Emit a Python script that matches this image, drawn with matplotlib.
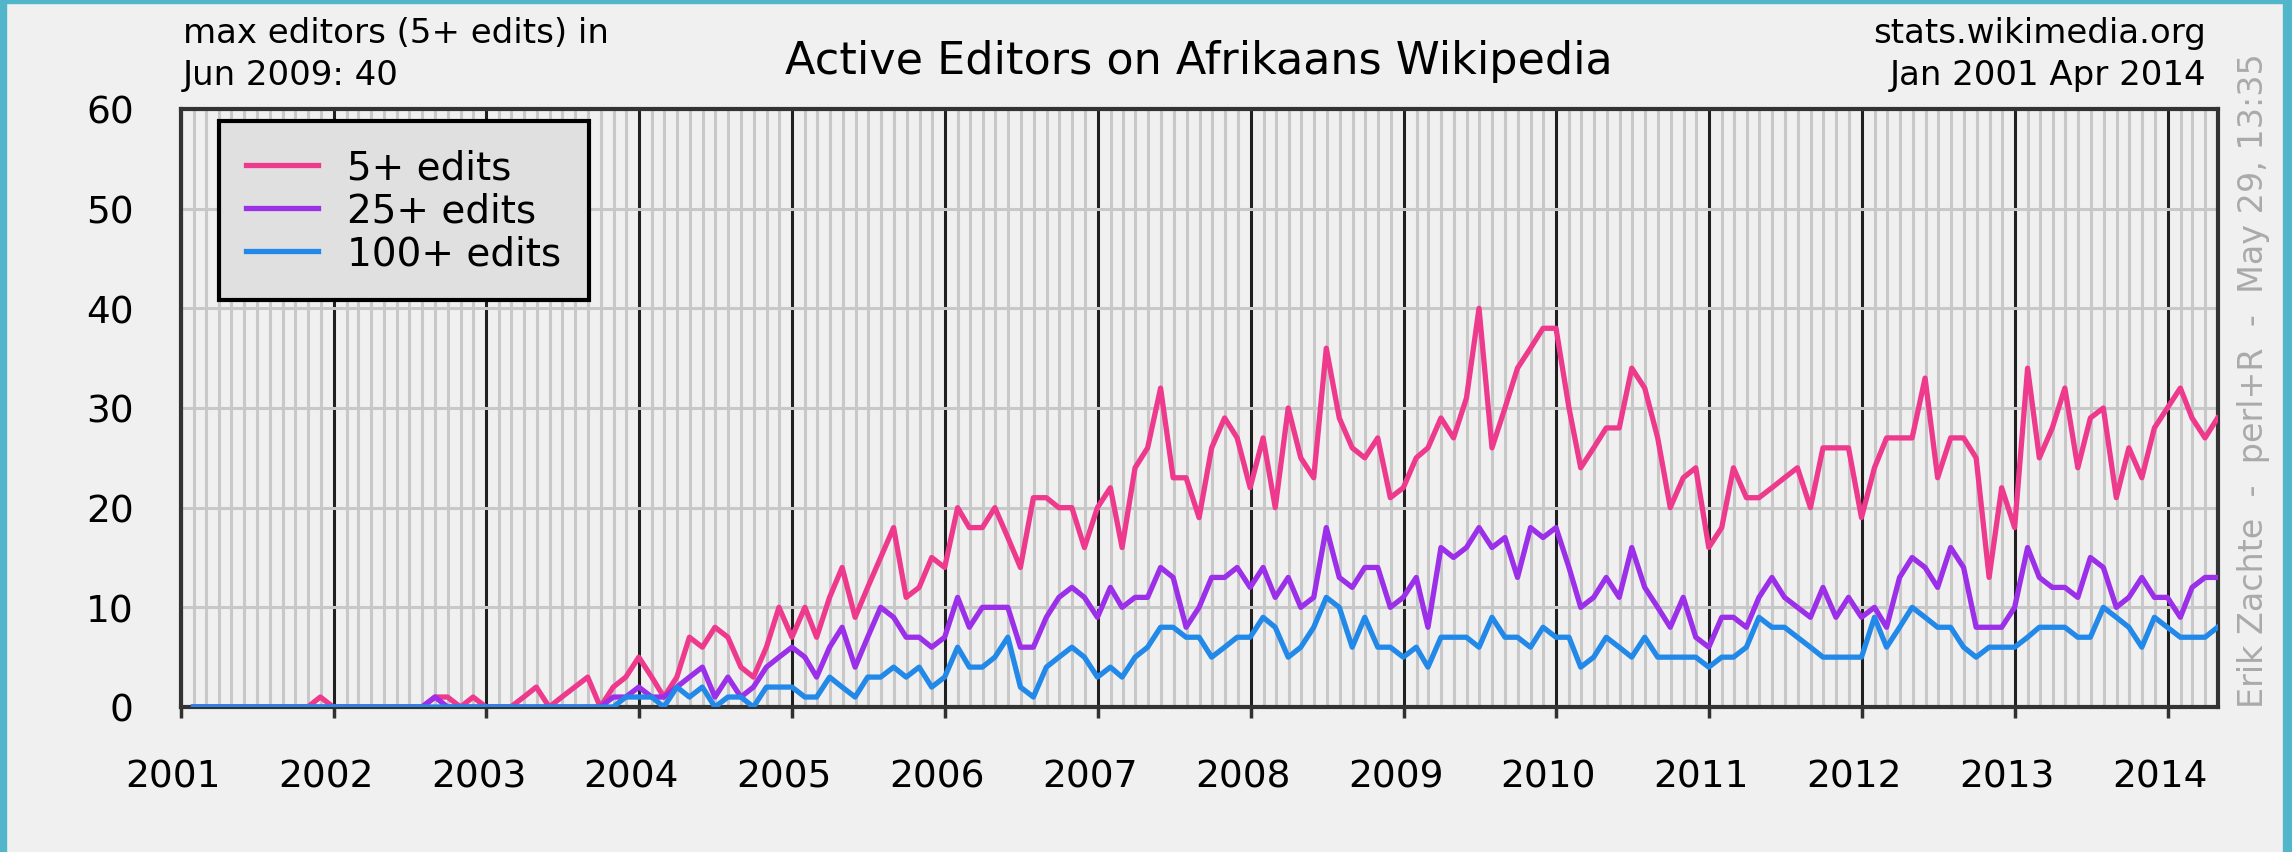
#imports
import pandas as pd
import matplotlib.pyplot as plt
import matplotlib.dates as mdates
import matplotlib.transforms as mtrans
from matplotlib.patches import Rectangle

#monthly active editors, Jan 2001 - Apr 2014 (one row per year)
months = pd.date_range('2001-01-31', '2014-04-30', freq='ME')

edits_5 = [
    0, 0, 0, 0, 0, 0, 0, 0, 0, 0, 1, 0,
    0, 0, 0, 0, 0, 0, 0, 1, 1, 0, 1, 0,
    0, 0, 1, 2, 0, 1, 2, 3, 0, 2, 3, 5,
    3, 1, 3, 7, 6, 8, 7, 4, 3, 6, 10, 7,
    10, 7, 11, 14, 9, 12, 15, 18, 11, 12, 15, 14,
    20, 18, 18, 20, 17, 14, 21, 21, 20, 20, 16, 20,
    22, 16, 24, 26, 32, 23, 23, 19, 26, 29, 27, 22,
    27, 20, 30, 25, 23, 36, 29, 26, 25, 27, 21, 22,
    25, 26, 29, 27, 31, 40, 26, 30, 34, 36, 38, 38,
    30, 24, 26, 28, 28, 34, 32, 27, 20, 23, 24, 16,
    18, 24, 21, 21, 22, 23, 24, 20, 26, 26, 26, 19,
    24, 27, 27, 27, 33, 23, 27, 27, 25, 13, 22, 18,
    34, 25, 28, 32, 24, 29, 30, 21, 26, 23, 28, 30,
    32, 29, 27, 29,
]

edits_25 = [
    0, 0, 0, 0, 0, 0, 0, 0, 0, 0, 0, 0,
    0, 0, 0, 0, 0, 0, 0, 1, 0, 0, 0, 0,
    0, 0, 0, 0, 0, 0, 0, 0, 0, 1, 1, 2,
    1, 1, 2, 3, 4, 1, 3, 1, 2, 4, 5, 6,
    5, 3, 6, 8, 4, 7, 10, 9, 7, 7, 6, 7,
    11, 8, 10, 10, 10, 6, 6, 9, 11, 12, 11, 9,
    12, 10, 11, 11, 14, 13, 8, 10, 13, 13, 14, 12,
    14, 11, 13, 10, 11, 18, 13, 12, 14, 14, 10, 11,
    13, 8, 16, 15, 16, 18, 16, 17, 13, 18, 17, 18,
    14, 10, 11, 13, 11, 16, 12, 10, 8, 11, 7, 6,
    9, 9, 8, 11, 13, 11, 10, 9, 12, 9, 11, 9,
    10, 8, 13, 15, 14, 12, 16, 14, 8, 8, 8, 10,
    16, 13, 12, 12, 11, 15, 14, 10, 11, 13, 11, 11,
    9, 12, 13, 13,
]

edits_100 = [
    0, 0, 0, 0, 0, 0, 0, 0, 0, 0, 0, 0,
    0, 0, 0, 0, 0, 0, 0, 0, 0, 0, 0, 0,
    0, 0, 0, 0, 0, 0, 0, 0, 0, 0, 1, 1,
    1, 0, 2, 1, 2, 0, 1, 1, 0, 2, 2, 2,
    1, 1, 3, 2, 1, 3, 3, 4, 3, 4, 2, 3,
    6, 4, 4, 5, 7, 2, 1, 4, 5, 6, 5, 3,
    4, 3, 5, 6, 8, 8, 7, 7, 5, 6, 7, 7,
    9, 8, 5, 6, 8, 11, 10, 6, 9, 6, 6, 5,
    6, 4, 7, 7, 7, 6, 9, 7, 7, 6, 8, 7,
    7, 4, 5, 7, 6, 5, 7, 5, 5, 5, 5, 4,
    5, 5, 6, 9, 8, 8, 7, 6, 5, 5, 5, 5,
    9, 6, 8, 10, 9, 8, 8, 6, 5, 6, 6, 6,
    7, 8, 8, 8, 7, 7, 10, 9, 8, 6, 9, 8,
    7, 7, 7, 8,
]

series = [
    ('5+ edits', edits_5, '#ee3a8c'),
    ('25+ edits', edits_25, '#9b30e8'),
    ('100+ edits', edits_100, '#2389e8'),
]

W, H = 2292, 853
BG = '#f0f0f0'


def fx(px):
    return px / W


def fy(py):
    #pixel from top -> figure fraction
    return 1 - py / H


def plot():
    fig = plt.figure(figsize=(W / 100, H / 100), dpi=100, facecolor=BG)

    #teal frame round the picture
    for x0, y0, w, h in [(0, 0, 6, H), (0, 0, W, 4), (W - 9, 0, 9, H)]:
        fig.patches.append(Rectangle((fx(x0), fy(y0 + h)), fx(w), h / H,
                                     transform=fig.transFigure,
                                     color='#52b6cb', zorder=0))

    ax = fig.add_axes([fx(181), fy(708), fx(2218 - 181), (708 - 110) / H])
    ax.set_facecolor(BG)

    for label, values, color in series:
        ax.plot(months, values, color=color, lw=3.8, label=label, zorder=3)

    ax.set_xlim(pd.Timestamp('2001-01-01'), pd.Timestamp('2014-05-01'))
    ax.set_ylim(0, 60)
    ax.set_yticks(range(0, 61, 10))

    ax.xaxis.set_major_locator(mdates.YearLocator())
    ax.xaxis.set_major_formatter(mdates.DateFormatter('%Y'))
    ax.xaxis.set_minor_locator(mdates.MonthLocator())

    #grid: months light, years dark
    ax.set_axisbelow(True)
    ax.grid(which='minor', axis='x', color='#c8c8c8', lw=2.2)
    ax.grid(which='major', axis='x', color='#202020', lw=2.2)
    ax.grid(which='major', axis='y', color='#c8c8c8', lw=2.2)

    ax.tick_params(axis='x', which='major', length=8, width=2.5,
                   color='#303030', labelsize=27, pad=29)
    ax.tick_params(axis='x', which='minor', length=0)
    ax.tick_params(axis='y', length=0, labelsize=27, pad=34)

    #year labels sit a little left of their line
    shift = mtrans.ScaledTranslation(-8 / 100, 0, fig.dpi_scale_trans)
    for lab in ax.get_xticklabels():
        lab.set_transform(lab.get_transform() + shift)

    for s in ax.spines.values():
        s.set_color('#333333')
        s.set_linewidth(3)

    leg = ax.legend(loc='upper left', bbox_to_anchor=(fx(219), fy(122)),
                    bbox_transform=fig.transFigure, fontsize=28,
                    fancybox=False, edgecolor='black', facecolor='#e0e0e0',
                    framealpha=1, borderpad=0.7, labelspacing=0.13,
                    handlelength=1.85, handletextpad=0.75, borderaxespad=0)
    leg.get_frame().set_linewidth(3)
    leg.set_zorder(5)

    #texts round the plot
    fig.text(fx(1199), fy(74), 'Active Editors on Afrikaans Wikipedia',
             ha='center', va='baseline', fontsize=32)
    fig.text(fx(183), fy(43), 'max editors (5+ edits) in',
             ha='left', va='baseline', fontsize=24.5)
    fig.text(fx(183), fy(85), 'Jun 2009: 40',
             ha='left', va='baseline', fontsize=24.5)
    fig.text(fx(2206), fy(43), 'stats.wikimedia.org',
             ha='right', va='baseline', fontsize=24.5)
    fig.text(fx(2206), fy(85), 'Jan 2001 Apr 2014',
             ha='right', va='baseline', fontsize=24.5)
    fig.text(fx(2254), fy(708), 'Erik Zachte  -  perl+R  -  May 29, 13:35',
             rotation=90, ha='center', va='bottom', fontsize=24,
             color='#aaaaaa')

    fig.savefig('out.png', dpi=100, facecolor=fig.get_facecolor())


def main():
    plot()


if __name__ == "__main__":
    main()
